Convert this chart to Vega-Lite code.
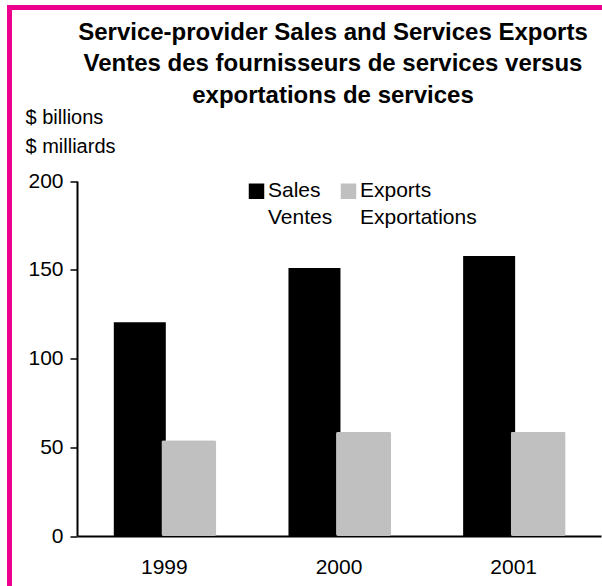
{
  "$schema": "https://vega.github.io/schema/vega-lite/v6.json",
  "width": 600,
  "height": 590,
  "autosize": {"type": "none"},
  "padding": {"left": 9.5, "top": 7.5, "right": -7.5, "bottom": -11.5},
  "background": "white",
  "config": {
    "font": "Liberation Sans",
    "view": {"stroke": "#EC008C", "strokeWidth": 5, "fill": "white"}
  },
  "title": {
    "text": ["Service-provider Sales and Services Exports", "Ventes des fournisseurs de services versus", "exportations de services"],
    "fontSize": 24,
    "fontWeight": "bold",
    "color": "black",
    "lineHeight": 31.5,
    "anchor": "middle",
    "frame": "group",
    "baseline": "top",
    "dx": 23.5,
    "dy": 104
  },
  "data": {
    "values": [
      {"year": "1999", "series": "Sales", "value": 120.4},
      {"year": "2000", "series": "Sales", "value": 151.0},
      {"year": "2001", "series": "Sales", "value": 157.7},
      {"year": "1999", "series": "Exports", "value": 53.9},
      {"year": "2000", "series": "Exports", "value": 58.8},
      {"year": "2001", "series": "Exports", "value": 58.8}
    ]
  },
  "encoding": {
    "x": {
      "field": "year",
      "type": "nominal",
      "scale": {"range": [67.5, 591.5], "paddingInner": 0, "paddingOuter": 0},
      "axis": {
        "title": null,
        "orient": "bottom",
        "offset": -61.5,
        "labelAngle": 0,
        "labelFontSize": 21,
        "labelColor": "black",
        "labelPadding": 20,
        "ticks": false,
        "domainColor": "black",
        "domainWidth": 2
      }
    },
    "xOffset": {
      "field": "series",
      "type": "nominal",
      "scale": {"domain": ["Sales", "Exports"], "paddingInner": 0, "paddingOuter": 0.78}
    },
    "y": {
      "field": "value",
      "type": "quantitative",
      "scale": {"domain": [0, 200], "range": [528.5, 173.5], "nice": false, "zero": true},
      "axis": {
        "title": ["$ billions", "$ milliards"],
        "titleAngle": 0,
        "titleAlign": "left",
        "titleBaseline": "alphabetic",
        "titleFontSize": 20,
        "titleFontWeight": "normal",
        "titleColor": "black",
        "titleLineHeight": 29,
        "titleX": -52,
        "titleY": 115.5,
        "offset": -67.5,
        "values": [0, 50, 100, 150, 200],
        "grid": false,
        "labelFontSize": 21,
        "labelColor": "black",
        "labelPadding": 7,
        "tickSize": 7,
        "tickWidth": 1.5,
        "tickColor": "black",
        "domainColor": "black",
        "domainWidth": 2
      }
    },
    "color": {
      "field": "series",
      "type": "nominal",
      "scale": {"domain": ["Sales", "Exports"], "range": ["#000000", "#C0C0C0"]},
      "legend": {
        "title": null,
        "orient": "none",
        "legendX": 236.5,
        "legendY": 178.5,
        "direction": "horizontal",
        "columns": 2,
        "columnPadding": 5,
        "padding": 0,
        "symbolType": "M-1,-1.71H1V0.29H-1Z",
        "symbolSize": 240,
        "symbolStrokeWidth": 0,
        "symbolOpacity": 1,
        "labelFontSize": 21,
        "labelColor": "black",
        "labelOffset": 1,
        "labelBaseline": "alphabetic",
        "labelExpr": "datum.label == 'Sales' ? ['Sales', 'Ventes'] : ['Exports', 'Exportations']",
        "encode": {
          "labels": {"update": {"lineHeight": {"value": 27}}}
        }
      }
    }
  },
  "layer": [
    {
      "transform": [{"filter": "datum.series == 'Sales'"}],
      "mark": {"type": "bar", "width": 52}
    },
    {
      "transform": [{"filter": "datum.series == 'Exports'"}],
      "mark": {"type": "bar", "width": 55, "cornerRadius": 2}
    }
  ]
}
